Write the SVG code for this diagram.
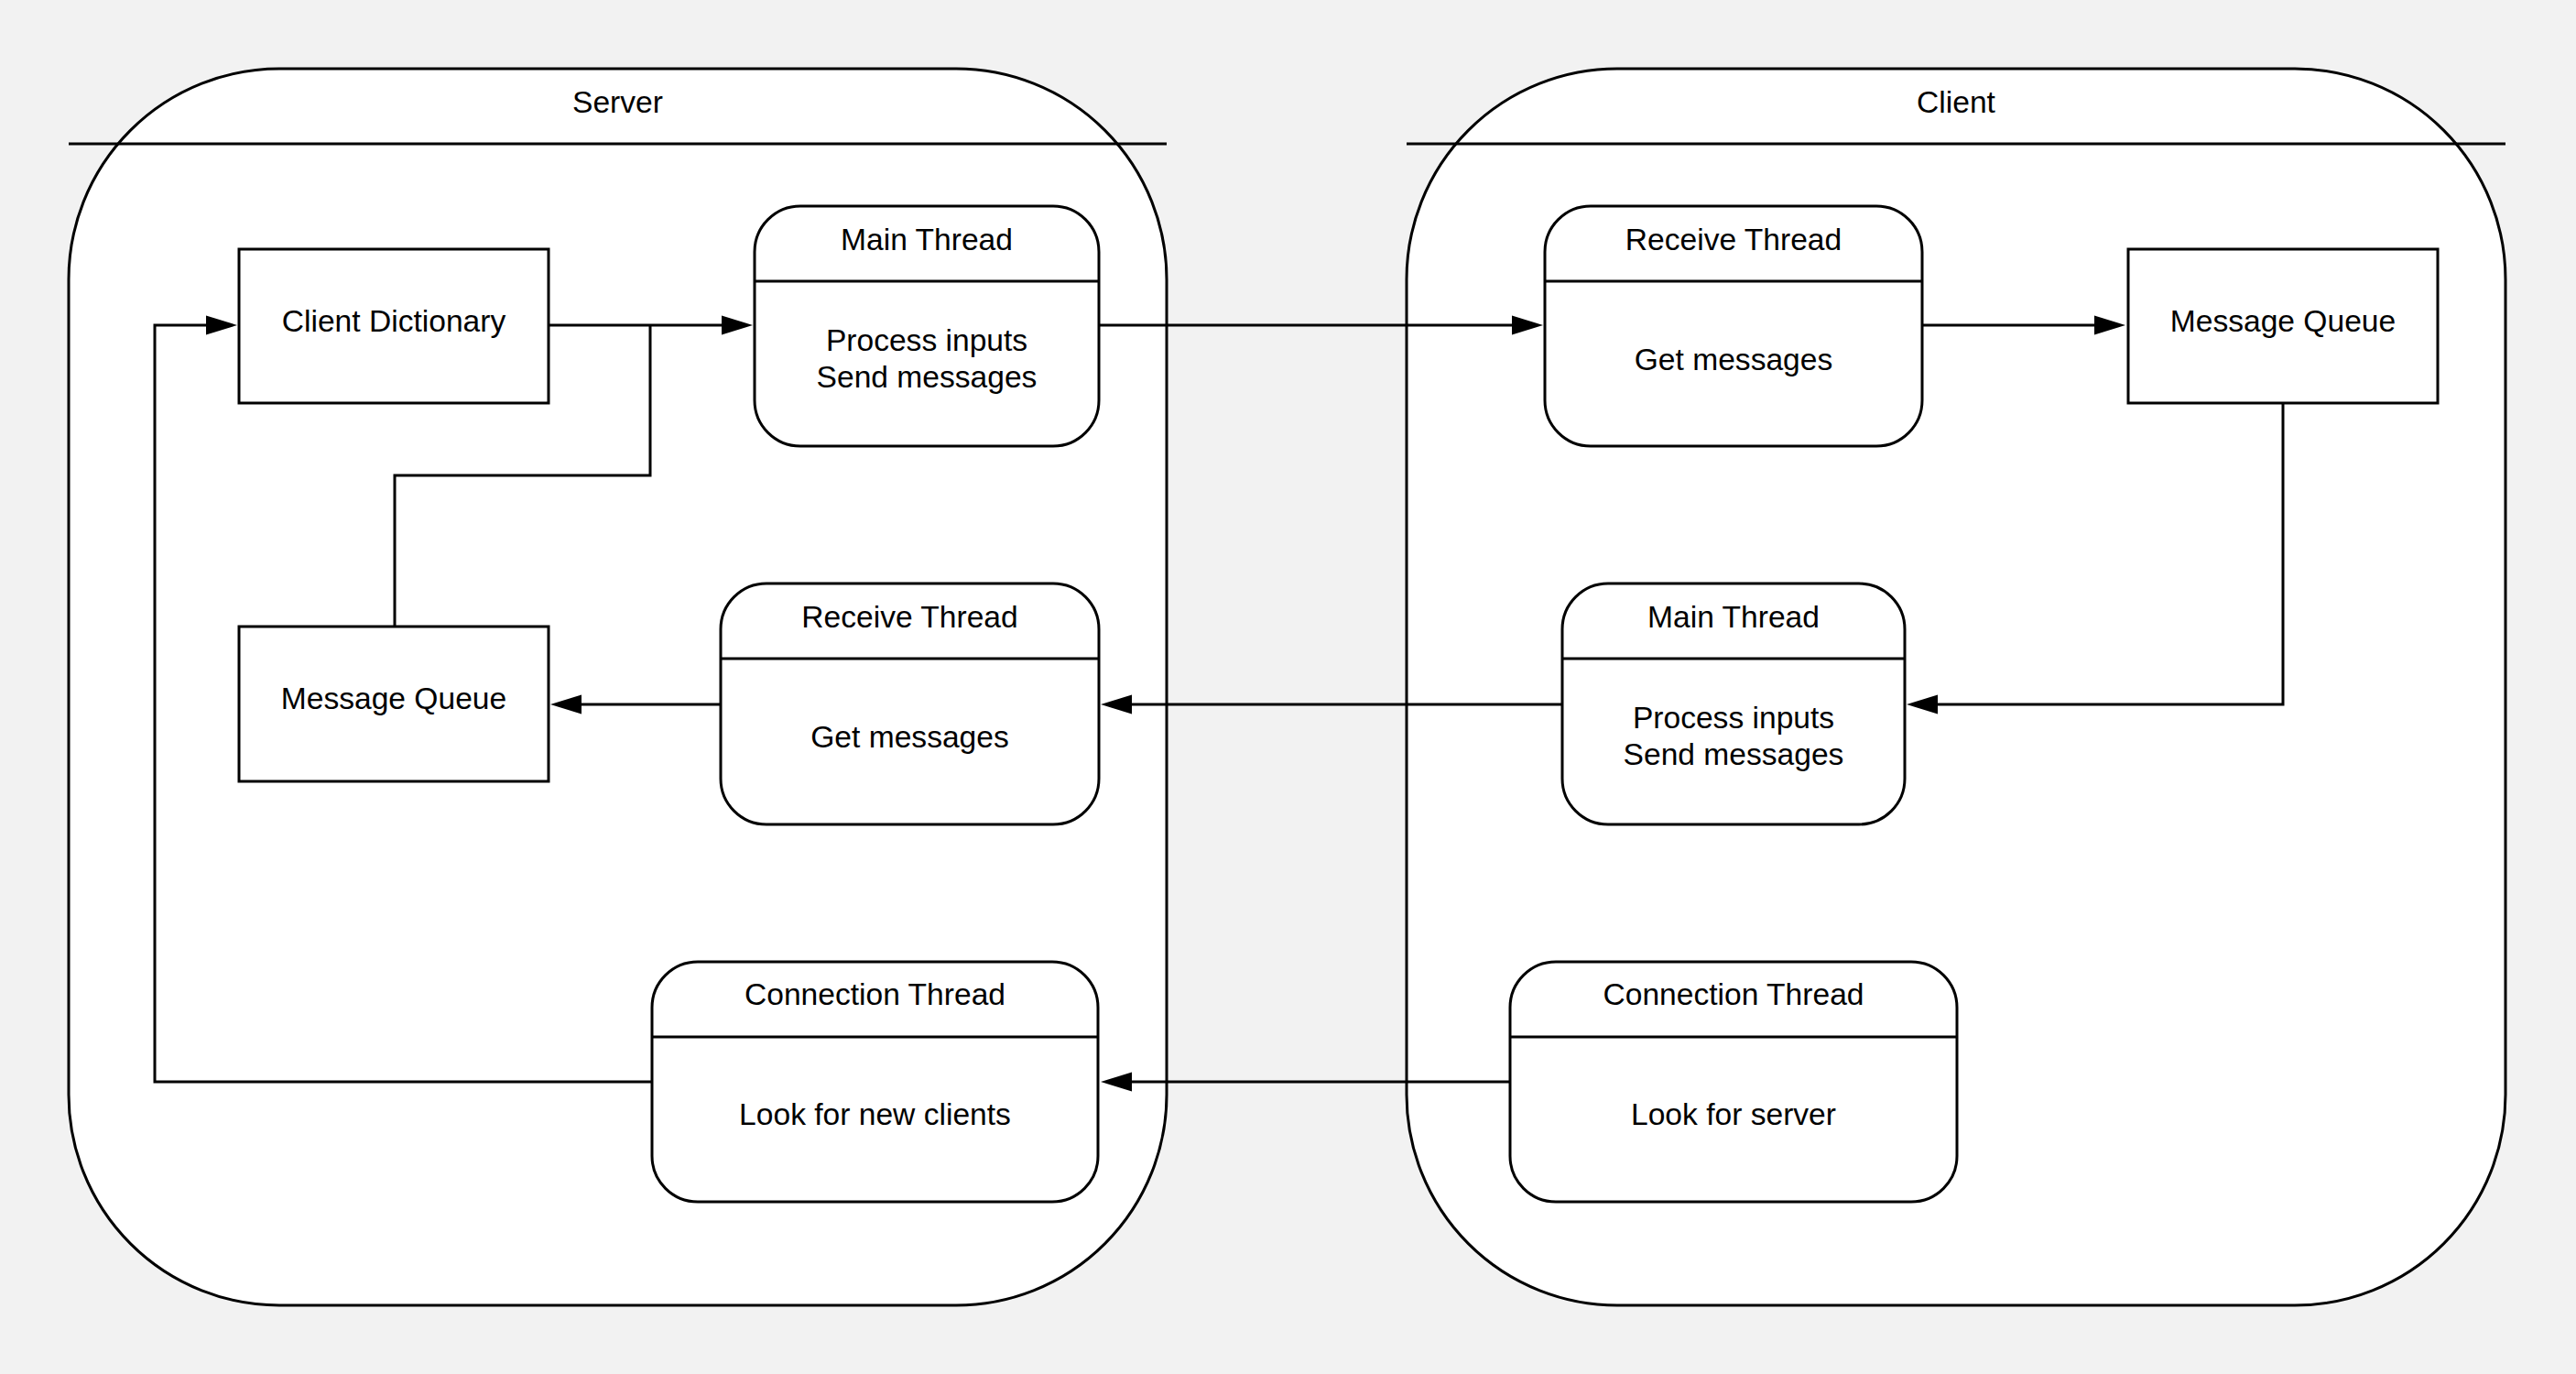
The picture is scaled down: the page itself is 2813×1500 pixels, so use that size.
<svg xmlns="http://www.w3.org/2000/svg" width="2813" height="1500" viewBox="0 0 2813 1500">
  <style>
    .lane { fill: #ffffff; stroke: #000000; stroke-width: 3; }
    .box { fill: #ffffff; stroke: #000000; stroke-width: 3; }
    .rule { fill: none; stroke: #000000; stroke-width: 3; }
    .wire { fill: none; stroke: #000000; stroke-width: 3; }
    text { font-family: "Liberation Sans", Arial, sans-serif; font-size: 33.6px; fill: #000000; text-anchor: middle; }
  </style>
  <defs>
    <marker id="arrow" markerUnits="userSpaceOnUse" markerWidth="36" markerHeight="24" refX="0" refY="11" orient="auto" overflow="visible">
      <path d="M0,0.5 L34,11 L0,21.5 Z" fill="#000000"/>
    </marker>
  </defs>

  <rect x="0" y="0" width="2813" height="1500" fill="#f2f2f2"/>

  <!-- Lanes -->
  <g id="server">
    <rect class="lane" x="75" y="75" width="1199" height="1350" rx="230" ry="230"/>
    <path class="rule" d="M75,157 H1274"/>
    <text x="674.5" y="123">Server</text>
  </g>
  <g id="client">
    <rect class="lane" x="1536" y="75" width="1200" height="1350" rx="230" ry="230"/>
    <path class="rule" d="M1536,157 H2736"/>
    <text x="2136" y="123">Client</text>
  </g>

  <!-- Connectors -->
  <g id="connectors">
    <path class="wire" d="M599,355 H788" marker-end="url(#arrow)"/>
    <path class="wire" d="M431,684 V519 H710 V355"/>
    <path class="wire" d="M1200,355 H1651" marker-end="url(#arrow)"/>
    <path class="wire" d="M2099,355 H2287" marker-end="url(#arrow)"/>
    <path class="wire" d="M2493,440 V769 H2116" marker-end="url(#arrow)"/>
    <path class="wire" d="M1706,769 H1236" marker-end="url(#arrow)"/>
    <path class="wire" d="M787,769 H635" marker-end="url(#arrow)"/>
    <path class="wire" d="M1649,1181 H1236" marker-end="url(#arrow)"/>
    <path class="wire" d="M712,1181 H169 V355 H225" marker-end="url(#arrow)"/>
  </g>

  <!-- Server nodes -->
  <g id="server-client-dictionary">
    <rect class="box" x="261" y="272" width="338" height="168"/>
    <text x="430" y="362">Client Dictionary</text>
  </g>
  <g id="server-message-queue">
    <rect class="box" x="261" y="684" width="338" height="169"/>
    <text x="430" y="774">Message Queue</text>
  </g>
  <g id="server-main-thread">
    <rect class="box" x="824" y="225" width="376" height="262" rx="50" ry="50"/>
    <path class="rule" d="M824,307 H1200"/>
    <text x="1012" y="273">Main Thread</text>
    <text x="1012" y="383">Process inputs</text>
    <text x="1012" y="423">Send messages</text>
  </g>
  <g id="server-receive-thread">
    <rect class="box" x="787" y="637" width="413" height="263" rx="50" ry="50"/>
    <path class="rule" d="M787,719 H1200"/>
    <text x="993.5" y="685">Receive Thread</text>
    <text x="993.5" y="816">Get messages</text>
  </g>
  <g id="server-connection-thread">
    <rect class="box" x="712" y="1050" width="487" height="262" rx="50" ry="50"/>
    <path class="rule" d="M712,1132 H1199"/>
    <text x="955.5" y="1097">Connection Thread</text>
    <text x="955.5" y="1228">Look for new clients</text>
  </g>

  <!-- Client nodes -->
  <g id="client-receive-thread">
    <rect class="box" x="1687" y="225" width="412" height="262" rx="50" ry="50"/>
    <path class="rule" d="M1687,307 H2099"/>
    <text x="1893" y="273">Receive Thread</text>
    <text x="1893" y="404">Get messages</text>
  </g>
  <g id="client-message-queue">
    <rect class="box" x="2324" y="272" width="338" height="168"/>
    <text x="2493" y="362">Message Queue</text>
  </g>
  <g id="client-main-thread">
    <rect class="box" x="1706" y="637" width="374" height="263" rx="50" ry="50"/>
    <path class="rule" d="M1706,719 H2080"/>
    <text x="1893" y="685">Main Thread</text>
    <text x="1893" y="795">Process inputs</text>
    <text x="1893" y="835">Send messages</text>
  </g>
  <g id="client-connection-thread">
    <rect class="box" x="1649" y="1050" width="488" height="262" rx="50" ry="50"/>
    <path class="rule" d="M1649,1132 H2137"/>
    <text x="1893" y="1097">Connection Thread</text>
    <text x="1893" y="1228">Look for server</text>
  </g>
</svg>
